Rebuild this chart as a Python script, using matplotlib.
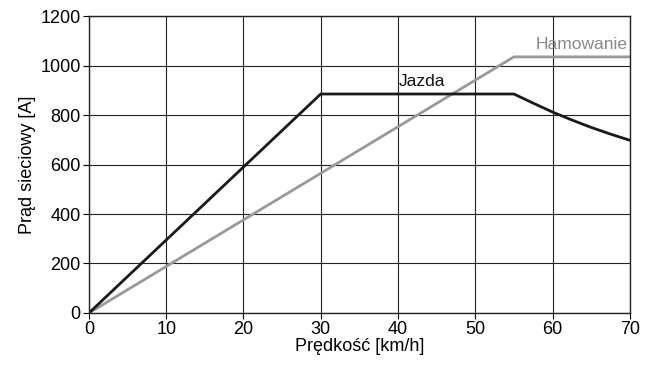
import matplotlib
matplotlib.use('Agg')
import matplotlib.pyplot as plt

plt.rcParams['font.family'] = ['Liberation Sans', 'DejaVu Sans']

# Jazda (black)
jazda_v = [0, 30, 55, 57.5, 60, 62.5, 65, 67.5, 70]
jazda_i = [0, 885, 885, 848, 812, 780, 750, 723, 698]

# Hamowanie (gray)
ham_v = [0, 55, 70]
ham_i = [0, 1035, 1035]

xticks = [0, 10, 20, 30, 40, 50, 60, 70]
yticks = [0, 200, 400, 600, 800, 1000, 1200]

fig = plt.figure(figsize=(6.54, 3.65), dpi=100)
ax = fig.add_axes([0.136, 0.1425, 0.827, 0.8135])

ax.set_xlim(0, 70)
ax.set_ylim(0, 1200)
ax.set_xticks(xticks)
ax.set_yticks(yticks)
ax.grid(True, color='#222222', linewidth=0.8)
ax.set_axisbelow(True)

ax.plot(ham_v, ham_i, color='#999999', linewidth=2, solid_joinstyle='miter')
ax.plot(jazda_v, jazda_i, color='#1a1a1a', linewidth=2, solid_joinstyle='miter')

ax.text(40.1, 935, 'Jazda', fontsize=12.5, color='#111111', ha='left', va='center')
ax.text(63.8, 1085, 'Hamowanie', fontsize=12.5, color='#888888', ha='center', va='center')

ax.set_xlabel('Prędkość [km/h]', fontsize=13, labelpad=0)
ax.set_ylabel('Prąd sieciowy [A]', fontsize=13, labelpad=3)
ax.tick_params(labelsize=13, direction='out', length=4, width=0.8, pad=2)
for s in ax.spines.values():
    s.set_linewidth(1.0)
    s.set_color('#222222')

fig.savefig('out.png', dpi=100)
